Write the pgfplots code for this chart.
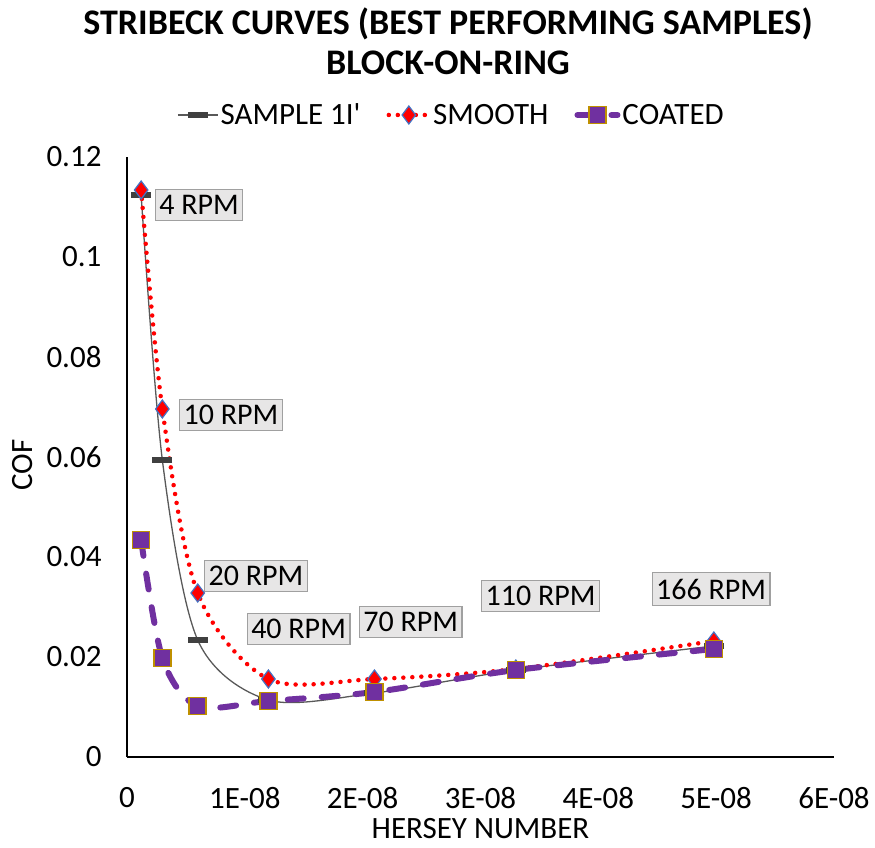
\documentclass[border=0pt]{standalone}
\usepackage{pgfplots}
\pgfplotsset{compat=1.18}
\usepackage{fontspec}
\setmainfont{Carlito}
\newfontfamily\nolig{Carlito}[Ligatures=TeXOff]
\definecolor{smred}{HTML}{FF0000}
\definecolor{mblue}{HTML}{4472C4}
\definecolor{cpurple}{HTML}{7030A0}
\definecolor{cgold}{HTML}{BF9000}
\definecolor{sgray}{HTML}{404040}
\definecolor{lgray}{HTML}{595959}
\definecolor{boxfill}{HTML}{E7E6E6}
\definecolor{boxdraw}{HTML}{A0A0A0}
\newcommand{\lfont}{\fontsize{31}{36}\selectfont}
\newcommand{\dfont}{\fontsize{30}{35}\selectfont}
\begin{document}
\begin{tikzpicture}[x=1pt,y=1pt]
\path[use as bounding box] (0,0) rectangle (875,847);
\begin{axis}[at={(127pt,90pt)}, anchor=south west, scale only axis,
  width=707pt, height=600pt,
  xmin=0, xmax=6e-8, ymin=0, ymax=0.12,
  axis x line=bottom, axis y line=left,
  axis line style={-, line width=2.5pt, black},
  xtick={0,1e-8,2e-8,3e-8,4e-8,5e-8,6e-8},
  xticklabels={0,1E-08,2E-08,3E-08,4E-08,5E-08,6E-08},
  ytick={0,0.02,0.04,0.06,0.08,0.1,0.12},
  yticklabels={0,0.02,0.04,0.06,0.08,0.1,0.12},
  major tick length=0pt, scaled ticks=false,
  tick label style={font=\lfont},
  xticklabel style={yshift=-27pt},
  yticklabel style={xshift=-22pt},
  xlabel={HERSEY NUMBER}, ylabel={COF},
  label style={font=\lfont},
  xlabel style={at={(axis description cs:0.5,-0.12)}, anchor=center},
  ylabel style={at={(axis description cs:-0.148,0.487)}, anchor=center, rotate=0},
  legend style={at={(axis description cs:0.459,1.07)}, anchor=center, draw=none, fill=none,
    font=\lfont, legend columns=-1,
    /tikz/every even column/.append style={column sep=24pt}},
  legend image code/.code={\draw[mark repeat=2,mark phase=2] plot coordinates {(0pt,0pt) (20pt,0pt) (40pt,0pt)};},
]
\addplot[lgray, line width=1.3pt, smooth, tension=0.5,
  mark=-, mark size=10pt, mark options={sgray, line width=6pt, solid}]
  coordinates {(1.2e-9,0.1124) (3e-9,0.0594) (6e-9,0.0234) (1.2e-8,0.0114) (2.1e-8,0.0128) (3.3e-8,0.0174) (4.98e-8,0.0222)};
\addlegendentry{SAMPLE 1I{\nolig '}}
\addplot[smred, line width=4.5pt, line cap=round, dash pattern=on 0pt off 9pt, smooth, tension=0.5,
  mark=diamond*, mark size=9pt, mark options={solid, fill=smred, draw=mblue, line width=1.2pt}]
  coordinates {(1.2e-9,0.1134) (3e-9,0.0696) (6e-9,0.0328) (1.2e-8,0.0156) (2.1e-8,0.0156) (3.3e-8,0.0176) (4.98e-8,0.0232)};
\addlegendentry{SMOOTH}
\addplot[cpurple, line width=6pt, line cap=round, dash pattern=on 16pt off 18pt, smooth, tension=0.5,
  mark=square*, mark size=8.5pt, mark options={solid, fill=cpurple, draw=cgold, line width=1.5pt}]
  coordinates {(1.2e-9,0.0434) (3e-9,0.0198) (6e-9,0.0102) (1.2e-8,0.0112) (2.1e-8,0.013) (3.3e-8,0.0174) (4.98e-8,0.0216)};
\addlegendentry{COATED}
\tikzset{rpm/.style={draw=boxdraw, fill=boxfill, line width=1.3pt, font=\dfont, inner xsep=4pt, inner ysep=6pt}}
\node[rpm] at (axis cs:0.611e-8,0.1104) {4 RPM};
\node[rpm] at (axis cs:0.883e-8,0.0684) {10 RPM};
\node[rpm] at (axis cs:1.095e-8,0.0362) {20 RPM};
\node[rpm] at (axis cs:1.456e-8,0.0256) {40 RPM};
\node[rpm] at (axis cs:2.407e-8,0.027) {70 RPM};
\node[rpm] at (axis cs:3.51e-8,0.0322) {110 RPM};
\node[rpm] at (axis cs:4.957e-8,0.0336) {166 RPM};
\end{axis}
\node[font=\fontsize{36}{42}\selectfont\bfseries] at (448,823) {STRIBECK CURVES (BEST PERFORMING SAMPLES)};
\node[font=\fontsize{36}{42}\selectfont\bfseries] at (448,784) {BLOCK-ON-RING};
\end{tikzpicture}
\end{document}
